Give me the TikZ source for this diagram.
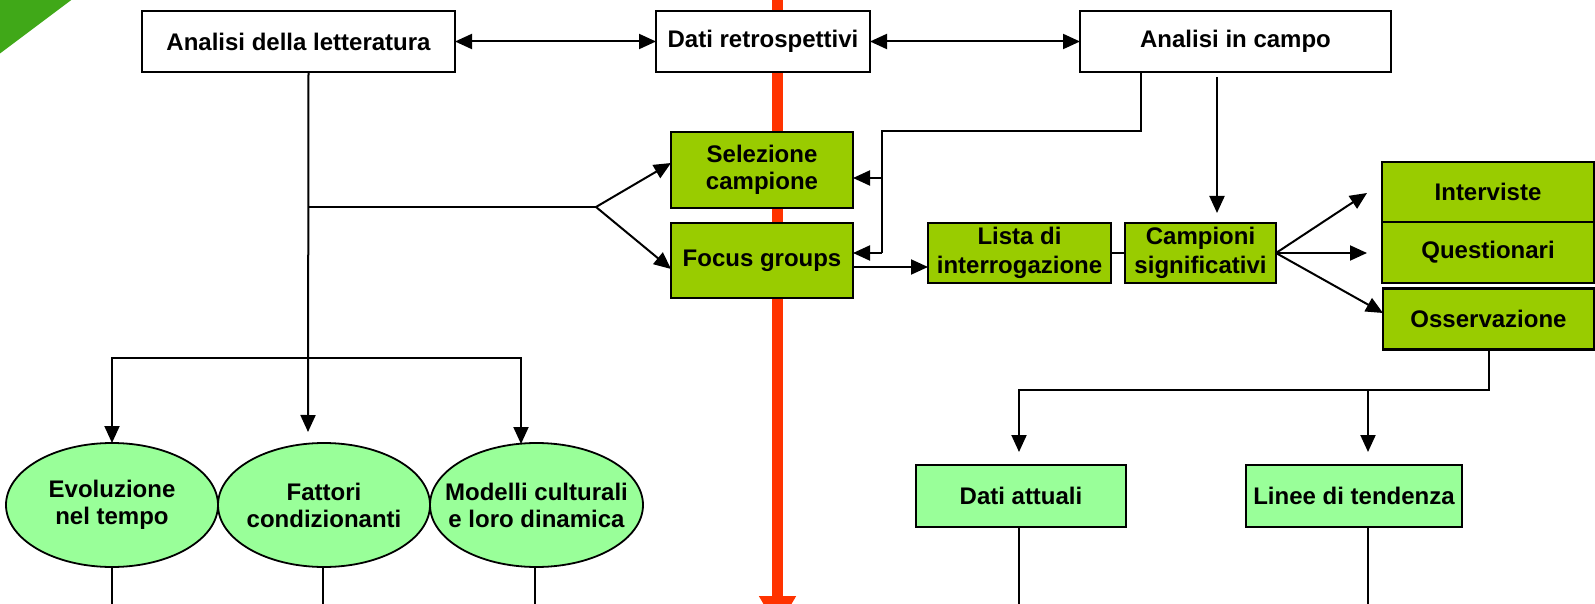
\documentclass[tikz,border=0pt]{standalone}
\usepackage{fontspec}
\setmainfont{Liberation Sans}
\usetikzlibrary{arrows.meta,shapes.geometric}
\definecolor{olivegreen}{HTML}{99CC00}
\definecolor{palegreen}{HTML}{99FF99}
\definecolor{redline}{HTML}{FF3300}
\definecolor{cornergreen}{RGB}{64,168,24}
\tikzset{
  base/.style={draw=black, line width=1.1pt, inner sep=0pt, outer sep=0pt, align=center,
    font=\fontsize{12}{13.5}\selectfont\bfseries},
  wbox/.style={base, fill=white, rectangle},
  gbox/.style={base, fill=olivegreen, rectangle},
  tallgbox/.style={gbox, font=\fontsize{12}{14.5}\selectfont\bfseries},
  lbox/.style={base, fill=palegreen, rectangle},
  eshape/.style={draw=black, line width=0.9pt, fill=palegreen, ellipse, inner sep=0pt, outer sep=0pt},
  etext/.style={inner sep=0pt, align=center, font=\fontsize{12}{13.5}\selectfont\bfseries},
  conn/.style={draw=black, line width=1pt},
  arr/.style={conn, -{Triangle[length=8.5pt,width=7.5pt]}},
  dbl/.style={conn, {Triangle[length=8.5pt,width=7.5pt]}-{Triangle[length=8.5pt,width=7.5pt]}},
  bigarrow/.style={draw=redline, line width=5.5pt, -{Triangle[length=16pt,width=17.5pt]}}
}
\begin{document}
\begin{tikzpicture}[x=0.5pt,y=-0.5pt]
\clip (0,0) rectangle (1595,604);
\useasboundingbox (0,0) rectangle (1595,604);
% corner decoration
\fill[cornergreen] (-2,-2) -- (74,-2) -- (-2,55) -- cycle;
% red time arrow (behind boxes)
\coordinate (rtop) at (777.5,-5);
\coordinate (rbot) at (777.5,628);
\draw[bigarrow] (rtop) -- (rbot);

% top row
\node[wbox, minimum width=156.5pt, minimum height=30.5pt] (lit) at (298.5,41.5) {Analisi della letteratura};
\node[wbox, minimum width=107pt, minimum height=30.5pt] (dati) at (763,41.5) {Dati retrospettivi};
\node[wbox, minimum width=155.5pt, minimum height=30.5pt] (campo) at (1235.5,41.5) {Analisi in campo};

% green boxes
\node[gbox, minimum width=91pt, minimum height=38pt] (sel) at (762,170) {Selezione\\campione};
\node[gbox, minimum width=91pt, minimum height=37.5pt] (focus) at (762,260.5) {Focus groups};
\node[tallgbox, minimum width=91.5pt, minimum height=30pt] (lista) at (1019.5,253) {Lista di\\interrogazione};
\node[tallgbox, minimum width=75.5pt, minimum height=30pt] (camp) at (1200.5,253) {Campioni\\significativi};
\node[gbox, minimum width=106pt, minimum height=30pt] (int) at (1488,192) {Interviste};
\node[gbox, minimum width=106pt, minimum height=30.5pt] (quest) at (1488,252.5) {Questionari};
\node[gbox, minimum width=105.5pt, minimum height=30.5pt] (oss) at (1488.5,319) {Osservazione};

% light green results
\node[lbox, minimum width=105pt, minimum height=31pt] (att) at (1021,496) {Dati attuali};
\node[lbox, minimum width=108pt, minimum height=31pt] (lin) at (1354,496) {Linee di tendenza};
\node[eshape, minimum width=106pt, minimum height=62pt] (ell1) at (112,505) {};
\node[eshape, minimum width=106pt, minimum height=62pt] (ell2) at (324,505) {};
\node[eshape, minimum width=106.5pt, minimum height=62pt] (ell3) at (536.5,505) {};
\node[etext] (ell1t) at (ell1) {Evoluzione\\nel tempo};
\node[etext] (ell2t) at (ell2) {Fattori\\condizionanti};
\node[etext] (ell3t) at (ell3) {Modelli culturali\\e loro dinamica};

% top row connectors
\draw[dbl] (lit.east) -- (dati.west);
\draw[dbl] (dati.east) -- (campo.west);

% literature trunk
\coordinate (jL) at (308,358);
\coordinate (fork) at (596,207);
\coordinate (tipF) at (308,432);
\coordinate (t3) at (521,444);
\draw[arr] ([xshift=5pt]lit.south) -- (tipF);
\draw[conn] ([xshift=5pt]lit.south |- fork) -- (fork);
\draw[arr] (fork) -- ([yshift=3.5pt]sel.west);
\draw[arr] (fork) -- ([yshift=-4.25pt]focus.west);
\draw[arr] (jL) -| (ell1.north);
\draw[arr] (jL) -| (t3);

% field analysis to selection / focus
\coordinate (c1) at (882,131);
\coordinate (c2) at (882,253);
\coordinate (c3) at (882,178);
\draw[conn] ([xshift=-47.25pt]campo.south) |- (c1) -- (c2);
\draw[arr] (c3) -- ([yshift=-4pt]sel.east);
\draw[arr] (c2) -- ([yshift=3.75pt]focus.east);

% field analysis to samples
\coordinate (tipC) at (1217,213);
\draw[arr] ([xshift=-9.25pt,yshift=-2.5pt]campo.south) -- (tipC);

% middle chain
\draw[arr] ([yshift=-3.25pt]focus.east) -- ([yshift=-7pt]lista.west);
\draw[conn] (lista.east) -- (camp.west);
\coordinate (tipI) at (1367,193);
\coordinate (tipQ) at (1367,253);
\draw[arr] (camp.east) -- (tipI);
\draw[arr] (camp.east) -- (tipQ);
\draw[arr] (camp.east) -- ([yshift=3pt]oss.west);

% observation to results
\coordinate (o1) at (1488.5,390);
\coordinate (tipA) at (1019,452);
\coordinate (jR) at (1368,390);
\coordinate (tipL) at (1368,452);
\draw[arr] (oss.south) -- (o1) -| (tipA);
\draw[arr] (jR) -- (tipL);

% lines leaving the bottom
\coordinate (bA) at (1019,606);
\coordinate (bL) at (1368,606);
\coordinate (bE1) at (112,606);
\coordinate (bE2) at (323,606);
\coordinate (bE3) at (535,606);
\draw[conn] (att.south -| bA) -- (bA);
\draw[conn] (lin.south -| bL) -- (bL);
\draw[conn] (ell1.south -| bE1) -- (bE1);
\draw[conn] (ell2.south -| bE2) -- (bE2);
\draw[conn] (ell3.south -| bE3) -- (bE3);
\end{tikzpicture}
\end{document}
